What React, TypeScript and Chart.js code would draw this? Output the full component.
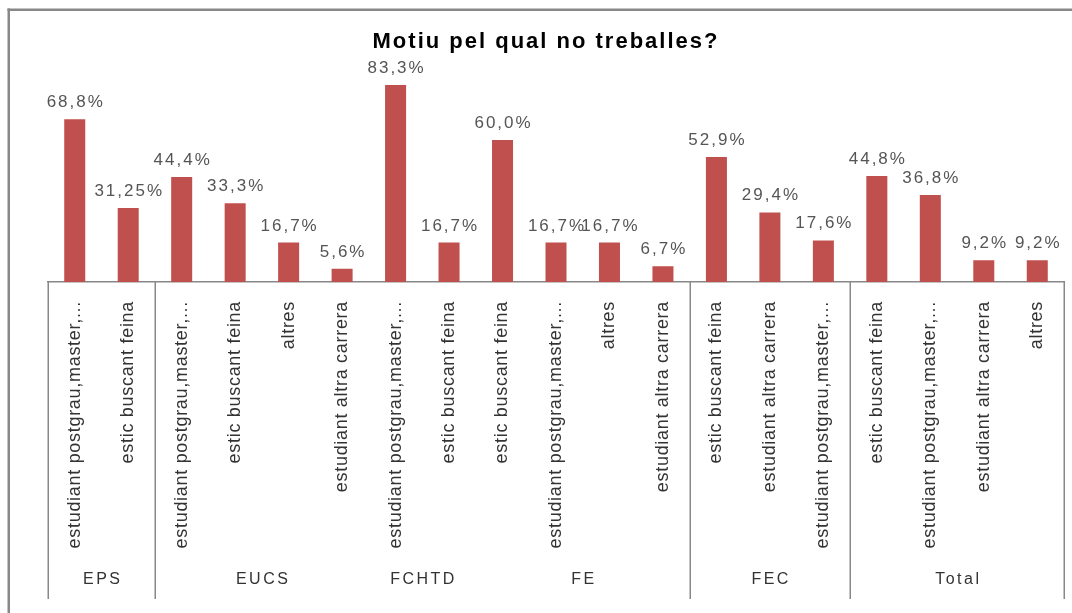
import React, { useEffect, useRef } from 'react';
import { Chart, registerables } from 'chart.js';

Chart.register(...registerables);

const TITLE = 'Motiu pel qual no treballes?';

const categories = [
  'estudiant postgrau,master,...',
  'estic buscant feina',
  'estudiant postgrau,master,...',
  'estic buscant feina',
  'altres',
  'estudiant altra carrera',
  'estudiant postgrau,master,...',
  'estic buscant feina',
  'estic buscant feina',
  'estudiant postgrau,master,...',
  'altres',
  'estudiant altra carrera',
  'estic buscant feina',
  'estudiant altra carrera',
  'estudiant postgrau,master,...',
  'estic buscant feina',
  'estudiant postgrau,master,...',
  'estudiant altra carrera',
  'altres',
];

const values = [
  68.8, 31.25,
  44.4, 33.3, 16.7, 5.6,
  83.3, 16.7,
  60.0, 16.7, 16.7, 6.7,
  52.9, 29.4, 17.6,
  44.8, 36.8, 9.2, 9.2,
];

const groups = ['EPS', 'EUCS', 'FCHTD', 'FE', 'FEC', 'Total'];
const groupSizes = [2, 4, 2, 4, 3, 4];
const separatorBoundaries = [0, 2, 12, 15, 19];

const FONT = '"Liberation Sans", Arial, sans-serif';

function fmt(v: number): string {
  const s = Number.isInteger(v) ? v.toFixed(1) : String(v);
  return s.replace('.', ',') + '%';
}

const overlay = {
  id: 'overlay',
  beforeDraw(chart: any) {
    const ctx = chart.ctx;
    ctx.save();
    ctx.fillStyle = '#ffffff';
    ctx.fillRect(0, 0, chart.width, chart.height);
    ctx.fillStyle = '#888888';
    ctx.fillRect(7.5, 8.5, chart.width, 2.5);
    ctx.fillRect(7.5, 8.5, 2.5, chart.height);
    ctx.restore();
  },
  afterDraw(chart: any) {
    const ctx = chart.ctx;
    const x = chart.scales.x;
    const area = chart.chartArea;
    const meta = chart.getDatasetMeta(0);

    // title
    ctx.save();
    ctx.fillStyle = '#000000';
    ctx.font = `bold 22px ${FONT}`;
    (ctx as any).letterSpacing = '2px';
    ctx.textAlign = 'center';
    ctx.textBaseline = 'alphabetic';
    ctx.fillText(TITLE, 546, 47.5);
    ctx.restore();

    // value labels
    ctx.save();
    ctx.fillStyle = '#555555';
    ctx.font = `17px ${FONT}`;
    (ctx as any).letterSpacing = '2px';
    ctx.textAlign = 'center';
    ctx.textBaseline = 'alphabetic';
    meta.data.forEach((bar: any, i: number) => {
      ctx.fillText(fmt(values[i]), bar.x + 1, bar.y - 12);
    });
    ctx.restore();

    // category labels (rotated)
    ctx.save();
    ctx.fillStyle = '#333333';
    ctx.font = `18px ${FONT}`;
    (ctx as any).letterSpacing = '0.7px';
    ctx.textAlign = 'right';
    ctx.textBaseline = 'middle';
    categories.forEach((label, i) => {
      const px = x.getPixelForValue(i);
      ctx.save();
      ctx.translate(px, area.bottom + 19);
      ctx.rotate(-Math.PI / 2);
      ctx.fillText(label, 0, 0);
      ctx.restore();
    });
    ctx.restore();

    // separators
    ctx.save();
    ctx.strokeStyle = '#888888';
    ctx.lineWidth = 1.5;
    separatorBoundaries.forEach((b) => {
      const px = Math.round(x.getPixelForValue(b - 0.5)) + 0.25;
      ctx.beginPath();
      ctx.moveTo(px, area.bottom);
      ctx.lineTo(px, 599);
      ctx.stroke();
    });
    ctx.restore();

    // group labels
    ctx.save();
    ctx.fillStyle = '#333333';
    ctx.font = `16px ${FONT}`;
    (ctx as any).letterSpacing = '2.5px';
    ctx.textAlign = 'center';
    ctx.textBaseline = 'alphabetic';
    let start = 0;
    groups.forEach((g, gi) => {
      const end = start + groupSizes[gi] - 1;
      const cx = (x.getPixelForValue(start) + x.getPixelForValue(end)) / 2;
      ctx.fillText(g, cx + 1.25, 584);
      start = end + 1;
    });
    ctx.restore();
  },
};

export default function App() {
  const ref = useRef<HTMLCanvasElement | null>(null);

  useEffect(() => {
    if (!ref.current) return;
    const chart = new Chart(ref.current, {
      type: 'bar',
      data: {
        labels: categories,
        datasets: [
          {
            data: values,
            backgroundColor: '#C0504D',
            borderWidth: 0,
            categoryPercentage: 1,
            barPercentage: 0.393,
          },
        ],
      },
      options: {
        animation: false,
        responsive: false,
        devicePixelRatio: 1,
        layout: { padding: { left: 48, right: 8, top: 45.5, bottom: 0 } },
        plugins: {
          legend: { display: false },
          title: { display: false },
          tooltip: { enabled: false },
        },
        scales: {
          x: {
            grid: { display: false, drawTicks: false },
            ticks: { display: false },
            border: { display: true, color: '#888888', width: 1.5 },
            afterFit: (scale: any) => {
              scale.height = 331;
            },
          },
          y: {
            display: false,
            min: 0,
            max: 100,
          },
        },
      },
      plugins: [overlay],
    });
    return () => chart.destroy();
  }, []);

  return (
    <div style={{ position: 'fixed', left: 0, top: 0, width: 1072, height: 613 }}>
      <canvas ref={ref} width={1072} height={613} style={{ width: 1072, height: 613, display: 'block' }} />
    </div>
  );
}
